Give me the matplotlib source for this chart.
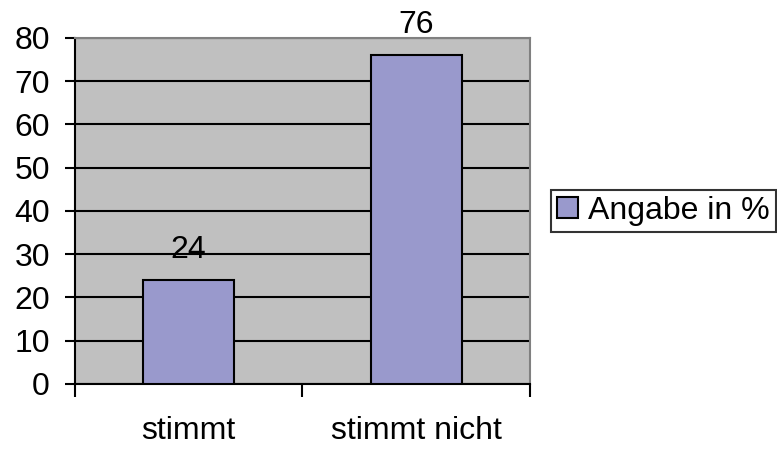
import numpy as np
import matplotlib.pyplot as plt

# Daten
kategorien = ['stimmt', 'stimmt nicht']
werte = [24, 76]
serie = 'Angabe in %'

plt.rcParams['font.family'] = ['Liberation Sans', 'DejaVu Sans']

fig = plt.figure(figsize=(7.77, 4.49), dpi=100)
ax = fig.add_axes([0.0965, 0.1448, 0.5855, 0.7706])
ax.set_facecolor('#C0C0C0')

x = np.arange(len(kategorien))
bars = ax.bar(x, werte, width=0.4, color='#9999CC', edgecolor='black',
              linewidth=1.5, label=serie, zorder=3)

for b, v in zip(bars, werte):
    ax.annotate(str(v), (b.get_x() + b.get_width() / 2, v),
                xytext=(0, 11), textcoords='offset points',
                ha='center', va='bottom', fontsize=23)

ax.set_ylim(0, 80)
ax.set_yticks(range(0, 81, 10))
ax.set_xlim(-0.5, 1.5)
ax.set_xticks([-0.5, 0.5, 1.5])
ax.set_xticklabels([])
ax.set_xticks(x, minor=True)
ax.set_xticklabels(kategorien, minor=True)

ax.grid(axis='y', color='black', linewidth=1.5, zorder=1)
ax.set_axisbelow(True)

ax.tick_params(axis='y', direction='out', length=7, width=1.5, labelsize=23, pad=11)
ax.tick_params(axis='x', which='major', direction='out', length=9, width=1.5)
ax.tick_params(axis='x', which='minor', length=0, labelsize=23, pad=23)

for s in ['left', 'bottom']:
    ax.spines[s].set_color('black')
    ax.spines[s].set_linewidth(1.5)
for s in ['top', 'right']:
    ax.spines[s].set_color('#808080')
    ax.spines[s].set_linewidth(1.5)

leg = fig.legend(loc='center left', bbox_to_anchor=(0.709, 0.530),
                 fontsize=23, frameon=True, fancybox=False, edgecolor='black',
                 handlelength=0.65, handleheight=0.65, handletextpad=0.3,
                 borderpad=0.2, borderaxespad=0)
leg.get_frame().set_linewidth(1.5)

fig.savefig('out.png', dpi=100)
